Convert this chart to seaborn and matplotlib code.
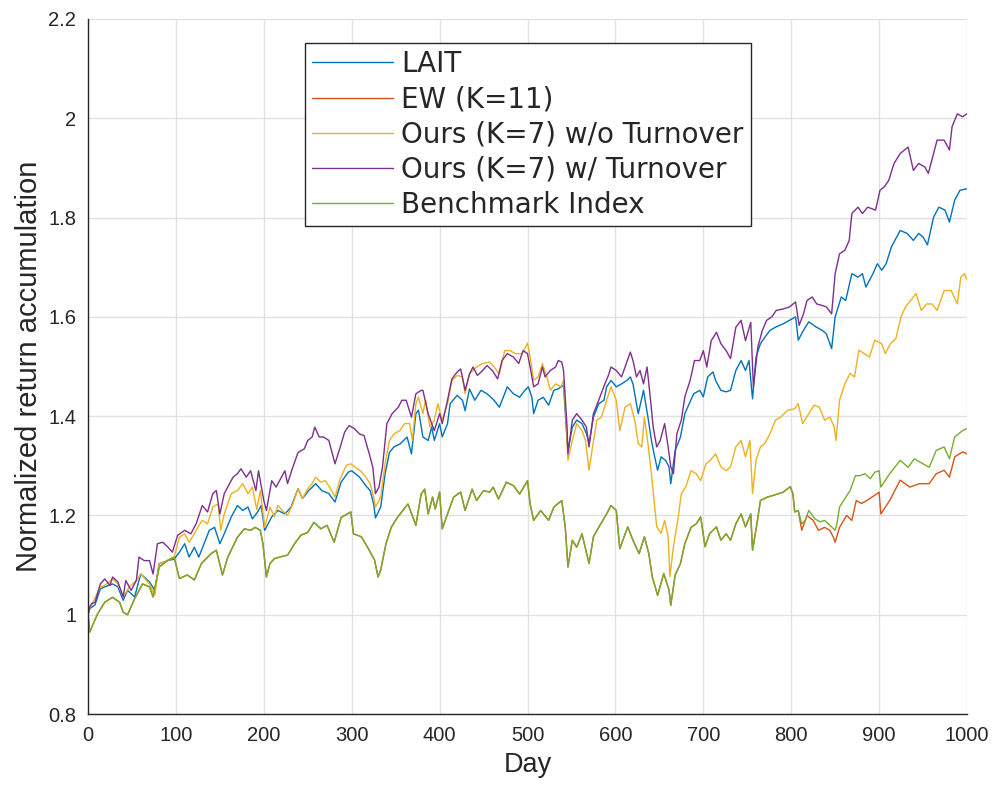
import matplotlib
matplotlib.use("Agg")
import matplotlib.pyplot as plt
import seaborn as sns
import pandas as pd

# ---------------- data ----------------
series_names = ["LAIT", "EW (K=11)", "Ours (K=7) w/o Turnover",
                "Ours (K=7) w/ Turnover", "Benchmark Index"]
series_colors = ["#0072BD", "#D95319", "#EDB120", "#7E2F8E", "#77AC30"]

x_ticks = [0, 100, 200, 300, 400, 500, 600, 700, 800, 900, 1000]
y_ticks = [0.8, 1.0, 1.2, 1.4, 1.6, 1.8, 2.0, 2.2]
y_tick_labels = ["0.8", "1", "1.2", "1.4", "1.6", "1.8", "2", "2.2"]

bench_days = [0, 2, 6, 11, 19, 28, 36, 40, 45, 53, 62, 70, 74, 81, 91, 98, 104, 113, 121, 129,
              140, 146, 153, 159, 170, 178, 185, 190, 196, 199, 203, 207, 212, 220, 227, 235, 242,
              250, 257, 265, 272, 280, 288, 299, 302, 311, 318, 326, 330, 333, 339, 345, 352, 364,
              373, 379, 383, 387, 392, 395, 400, 403, 409, 416, 424, 429, 437, 442, 450, 457, 461,
              467, 476, 484, 491, 500, 503, 507, 515, 524, 530, 539, 543, 546, 551, 556, 562, 570,
              575, 581, 590, 595, 601, 605, 614, 620, 627, 633, 638, 642, 648, 655, 661, 663, 668,
              674, 679, 686, 692, 697, 702, 707, 715, 720, 726, 731, 737, 743, 748, 754, 756, 761,
              765, 773, 779, 784, 791, 799, 802, 804, 808,
              812, 816, 820, 823, 827, 833, 838, 844, 850, 852, 855, 861, 867, 873, 878, 884, 890,
              895, 900, 902, 912, 924, 933, 940, 950, 957, 965, 974, 980, 986, 995, 1000]
bench_vals = [1.000, 0.965, 0.982, 1.002, 1.025, 1.035, 1.025, 1.005, 1.000, 1.032, 1.062, 1.056,
              1.036, 1.096, 1.110, 1.116, 1.073, 1.080, 1.070, 1.103, 1.123, 1.130, 1.080, 1.116,
              1.156, 1.173, 1.170, 1.176, 1.170, 1.143, 1.076, 1.103, 1.113, 1.117, 1.120, 1.143,
              1.160, 1.166, 1.186, 1.173, 1.180, 1.146, 1.196, 1.207, 1.163, 1.157, 1.136, 1.110,
              1.076, 1.090, 1.143, 1.176, 1.196, 1.223, 1.180, 1.243, 1.253, 1.203, 1.237, 1.213,
              1.247, 1.173, 1.203, 1.237, 1.247, 1.210, 1.253, 1.230, 1.250, 1.247, 1.257, 1.233,
              1.267, 1.260, 1.243, 1.270, 1.223, 1.190, 1.210, 1.190, 1.217, 1.230, 1.176, 1.096,
              1.150, 1.136, 1.163, 1.103, 1.157, 1.176, 1.203, 1.220, 1.210, 1.133, 1.177, 1.150,
              1.123, 1.157, 1.123, 1.076, 1.039, 1.083, 1.050, 1.019, 1.080, 1.103, 1.143, 1.176,
              1.183, 1.197, 1.137, 1.163, 1.177, 1.150, 1.163, 1.150, 1.183, 1.203, 1.177, 1.203,
              1.130, 1.183, 1.230, 1.237, 1.240, 1.243, 1.247, 1.258, 1.243, 1.207, 1.210,
              1.183, 1.190, 1.210, 1.203, 1.193, 1.187, 1.190, 1.180, 1.170, 1.183, 1.217, 1.234,
              1.250, 1.280, 1.280, 1.284, 1.274, 1.287, 1.290, 1.257, 1.284, 1.311, 1.297, 1.314,
              1.304, 1.297, 1.331, 1.338, 1.314, 1.358, 1.371, 1.375]

# EW (K=11) lies exactly under the benchmark until about day 808, then separates
ew_split = bench_days.index(808) + 1
ew_days = bench_days[:ew_split] + [812, 818, 825, 831, 838, 844, 848, 850, 855, 863, 869, 874,
                                   880, 886, 892, 897, 900, 902, 912, 924, 935, 946, 957, 965,
                                   974, 980, 986, 995, 1000]
ew_vals = bench_vals[:ew_split] + [1.170, 1.200, 1.190, 1.170, 1.176, 1.170, 1.156, 1.146, 1.176,
                                   1.200, 1.190, 1.230, 1.224, 1.230, 1.237, 1.243, 1.247, 1.203,
                                   1.230, 1.271, 1.257, 1.264, 1.264, 1.284, 1.291, 1.277, 1.318,
                                   1.328, 1.324]

lait_days = [0, 2, 8, 14, 19, 28, 34, 40, 45, 53, 60, 70, 76, 81, 91, 98, 104, 110, 115, 121, 126,
             132, 138, 144, 150, 155, 163, 170, 176, 182, 187, 193, 197, 201, 209, 216, 224, 231,
             239, 244, 251, 259, 266, 274, 281, 288, 296, 300, 309, 316, 321, 325, 327, 333, 338,
             343, 348, 355, 363, 368, 373, 376, 381, 387, 391, 394, 400, 403, 409, 412, 420, 426,
             429, 434, 440, 447, 454, 462, 468, 477, 484, 491, 497, 501, 505, 507, 512, 518, 524,
             530, 535, 541, 545, 546, 551, 556, 562, 567, 570, 575, 581, 587, 590, 595, 601, 607,
             613, 617, 620, 626, 632, 637, 641, 644, 648, 652, 657, 661, 663, 668, 674, 679, 684,
             689, 696, 700, 705, 711, 714, 720, 726, 731, 737, 743, 748, 752, 756, 760, 765, 770,
             776, 783, 791, 798, 805, 808, 814, 820, 828, 835, 840, 846, 850, 857, 862, 869, 876,
             881, 885, 893, 898, 903, 908, 914, 924, 932, 939, 945, 950, 955, 962, 968, 975, 980,
             986, 992, 1000]
lait_vals = [1.000, 1.012, 1.020, 1.052, 1.056, 1.062, 1.056, 1.029, 1.049, 1.036, 1.082, 1.066,
             1.049, 1.103, 1.109, 1.112, 1.126, 1.143, 1.116, 1.136, 1.116, 1.143, 1.170, 1.176,
             1.143, 1.163, 1.197, 1.220, 1.210, 1.217, 1.193, 1.207, 1.220, 1.170, 1.197, 1.210,
             1.203, 1.217, 1.254, 1.234, 1.250, 1.264, 1.250, 1.244, 1.227, 1.267, 1.287, 1.290,
             1.277, 1.260, 1.250, 1.223, 1.195, 1.217, 1.284, 1.327, 1.338, 1.344, 1.358, 1.324,
             1.405, 1.412, 1.358, 1.351, 1.378, 1.351, 1.385, 1.358, 1.385, 1.425, 1.442, 1.432,
             1.411, 1.455, 1.432, 1.452, 1.445, 1.432, 1.418, 1.459, 1.445, 1.438, 1.452, 1.459,
             1.438, 1.405, 1.432, 1.438, 1.422, 1.452, 1.455, 1.462, 1.351, 1.330, 1.378, 1.392,
             1.385, 1.365, 1.345, 1.398, 1.425, 1.432, 1.459, 1.472, 1.459, 1.465, 1.472, 1.479,
             1.465, 1.405, 1.452, 1.398, 1.351, 1.324, 1.291, 1.318, 1.311, 1.298, 1.264, 1.331,
             1.358, 1.405, 1.425, 1.445, 1.452, 1.439, 1.479, 1.489, 1.472, 1.452, 1.449, 1.452,
             1.492, 1.512, 1.492, 1.512, 1.435, 1.519, 1.546, 1.559, 1.573, 1.580, 1.586, 1.593,
             1.600, 1.553, 1.573, 1.590, 1.580, 1.573, 1.566, 1.536, 1.600, 1.640, 1.633, 1.687,
             1.680, 1.687, 1.660, 1.687, 1.707, 1.694, 1.707, 1.741, 1.774, 1.768, 1.754, 1.768,
             1.761, 1.745, 1.801, 1.821, 1.815, 1.791, 1.835, 1.855, 1.858]

wo_days = [0, 2, 14, 19, 28, 34, 40, 47, 55, 60, 70, 76, 81, 91, 98, 104, 110, 115, 121, 125, 130,
           136, 142, 148, 151, 155, 163, 170, 176, 182, 187, 192, 196, 201, 207, 212, 216, 221, 227,
           233, 239, 244, 250, 255, 259, 265, 270, 276, 281, 287, 294, 299, 304, 310, 316, 321, 325,
           327, 333, 338, 343, 348, 355, 360, 366, 369, 373, 376, 381, 384, 389, 394, 398, 403, 409,
           414, 420, 426, 429, 434, 442, 449, 457, 462, 468, 474, 480, 486, 494, 500, 503, 507, 512,
           517, 522, 526, 532, 538, 541, 544, 546, 551, 556, 562, 566, 570, 574, 579, 584, 590, 595,
           601, 605, 611, 617, 622, 626, 630, 633, 637, 641, 644, 647, 652, 656, 660, 662, 666, 671,
           675, 680, 686, 692, 697, 703, 708, 714, 720, 726, 731, 737, 743, 748, 753, 756, 760, 765,
           770, 776, 782, 788, 796, 804, 808, 813, 820, 826, 832, 838, 844, 849, 851, 855, 861, 867,
           872, 877, 883, 889, 895, 903, 907, 913, 919, 925, 930, 936, 942, 948, 954, 960, 966, 974,
           982, 989, 993, 997, 1000]
wo_vals = [1.000, 1.012, 1.056, 1.059, 1.072, 1.062, 1.036, 1.056, 1.069, 1.082, 1.062, 1.039,
           1.103, 1.109, 1.116, 1.156, 1.163, 1.146, 1.163, 1.176, 1.190, 1.183, 1.217, 1.223,
           1.170, 1.203, 1.244, 1.250, 1.264, 1.244, 1.257, 1.212, 1.250, 1.176, 1.217, 1.197,
           1.220, 1.210, 1.200, 1.223, 1.254, 1.234, 1.254, 1.264, 1.277, 1.267, 1.270, 1.254,
           1.237, 1.274, 1.301, 1.304, 1.297, 1.290, 1.277, 1.264, 1.237, 1.217, 1.237, 1.304,
           1.351, 1.364, 1.371, 1.385, 1.385, 1.351, 1.425, 1.438, 1.405, 1.432, 1.378, 1.392,
           1.425, 1.392, 1.425, 1.472, 1.482, 1.479, 1.445, 1.485, 1.499, 1.506, 1.509, 1.499,
           1.485, 1.532, 1.532, 1.526, 1.526, 1.547, 1.519, 1.472, 1.479, 1.506, 1.479, 1.452,
           1.465, 1.459, 1.472, 1.392, 1.311, 1.351, 1.385, 1.371, 1.351, 1.291, 1.338, 1.392,
           1.398, 1.432, 1.459, 1.432, 1.371, 1.418, 1.425, 1.392, 1.345, 1.338, 1.398, 1.345,
           1.284, 1.231, 1.177, 1.164, 1.190, 1.157, 1.077, 1.137, 1.190, 1.244, 1.257, 1.290,
           1.284, 1.270, 1.304, 1.311, 1.324, 1.298, 1.290, 1.298, 1.338, 1.351, 1.318, 1.351,
           1.244, 1.311, 1.338, 1.345, 1.365, 1.392, 1.398, 1.412, 1.415, 1.425, 1.385, 1.405,
           1.422, 1.418, 1.392, 1.398, 1.378, 1.351, 1.432, 1.465, 1.486, 1.479, 1.533, 1.526,
           1.519, 1.553, 1.546, 1.526, 1.546, 1.556, 1.600, 1.620, 1.633, 1.647, 1.613, 1.626,
           1.626, 1.613, 1.653, 1.653, 1.626, 1.680, 1.687, 1.674]

w_days = [0, 2, 4, 8, 14, 19, 25, 28, 34, 40, 43, 49, 55, 58, 64, 70, 74, 79, 85, 91, 96, 102, 110,
          117, 123, 130, 136, 142, 146, 150, 155, 165, 170, 174, 180, 185, 191, 194, 200, 203, 209,
          214, 220, 224, 227, 233, 239, 246, 250, 255, 258, 263, 268, 274, 277, 281, 287, 292, 297,
          303, 309, 314, 320, 324, 327, 331, 335, 340, 346, 353, 357, 362, 368, 373, 379, 381, 387,
          391, 394, 400, 403, 409, 414, 420, 424, 429, 434, 438, 443, 449, 454, 460, 466, 471, 477,
          484, 490, 495, 500, 503, 507, 512, 517, 520, 526, 532, 535, 539, 541, 545, 546, 551, 556,
          562, 567, 570, 575, 581, 588, 592, 595, 601, 607, 613, 617, 620, 624, 628, 632, 636, 640,
          643, 647, 651, 656, 660, 663, 666, 670, 675, 679, 685, 690, 696, 700, 704, 709, 715, 720,
          726, 731, 737, 743, 748, 754, 757, 762, 767, 772, 778, 783, 791, 798, 805, 809, 814, 818,
          824, 829, 835, 840, 846, 850, 855, 861, 866, 869, 876, 881, 887, 896, 901, 906, 911, 917,
          924, 933, 939, 945, 952, 956, 962, 966, 974, 980, 983, 989, 995, 1000]
w_vals = [1.000, 1.015, 1.022, 1.025, 1.062, 1.072, 1.059, 1.076, 1.066, 1.036, 1.069, 1.049,
          1.069, 1.116, 1.109, 1.109, 1.082, 1.143, 1.146, 1.136, 1.126, 1.160, 1.170, 1.163,
          1.183, 1.220, 1.207, 1.244, 1.250, 1.203, 1.244, 1.277, 1.284, 1.294, 1.277, 1.290,
          1.250, 1.290, 1.230, 1.210, 1.270, 1.257, 1.277, 1.290, 1.264, 1.297, 1.327, 1.334,
          1.351, 1.358, 1.378, 1.358, 1.358, 1.351, 1.331, 1.304, 1.338, 1.368, 1.381, 1.375,
          1.364, 1.361, 1.324, 1.297, 1.244, 1.257, 1.297, 1.385, 1.405, 1.418, 1.432, 1.432,
          1.398, 1.445, 1.452, 1.452, 1.405, 1.385, 1.371, 1.405, 1.385, 1.432, 1.475, 1.489,
          1.495, 1.452, 1.485, 1.499, 1.482, 1.492, 1.502, 1.492, 1.475, 1.512, 1.526, 1.519,
          1.506, 1.532, 1.526, 1.499, 1.459, 1.465, 1.499, 1.479, 1.492, 1.499, 1.512, 1.509,
          1.492, 1.378, 1.324, 1.392, 1.405, 1.392, 1.378, 1.338, 1.405, 1.432, 1.465, 1.482,
          1.499, 1.492, 1.479, 1.509, 1.529, 1.512, 1.479, 1.492, 1.465, 1.499, 1.432, 1.378,
          1.338, 1.351, 1.385, 1.338, 1.298, 1.284, 1.365, 1.392, 1.439, 1.472, 1.512, 1.512,
          1.532, 1.499, 1.552, 1.569, 1.546, 1.532, 1.516, 1.579, 1.593, 1.552, 1.589, 1.459,
          1.539, 1.572, 1.593, 1.600, 1.613, 1.616, 1.620, 1.630, 1.583, 1.606, 1.633, 1.640,
          1.626, 1.623, 1.620, 1.606, 1.687, 1.727, 1.734, 1.754, 1.808, 1.821, 1.808, 1.821,
          1.815, 1.855, 1.862, 1.875, 1.909, 1.929, 1.942, 1.895, 1.909, 1.902, 1.889, 1.929,
          1.956, 1.956, 1.936, 1.983, 2.009, 2.003, 2.009]

series_days = [lait_days, ew_days, wo_days, w_days, bench_days]
series_vals = [lait_vals, ew_vals, wo_vals, w_vals, bench_vals]

# ---------------- build long-form table ----------------
frames = []
for name, d, v in zip(series_names, series_days, series_vals):
    frames.append(pd.DataFrame({"Day": d, "Value": v, "Method": name}))
df = pd.concat(frames, ignore_index=True)

# ---------------- style ----------------
sns.set_theme(style="white")
plt.rcParams["font.family"] = ["Liberation Sans", "DejaVu Sans"]

fig = plt.figure(figsize=(9.97, 7.87), dpi=100)
ax = fig.add_axes([88 / 997, 1 - 714 / 787, (967 - 88) / 997, (714 - 19) / 787])

sns.lineplot(data=df, x="Day", y="Value", hue="Method", hue_order=series_names,
             palette=dict(zip(series_names, series_colors)), estimator=None, sort=False,
             linewidth=1.0, ax=ax, legend=False)

ax.set_xlim(0, 1000)
ax.set_ylim(0.8, 2.2)
ax.set_xticks(x_ticks)
ax.set_xticklabels([str(t) for t in x_ticks])
ax.set_yticks(y_ticks)
ax.set_yticklabels(y_tick_labels)
ax.grid(True, color="#e1e1e1", linewidth=1.0)
ax.set_axisbelow(True)
for side in ["top", "right"]:
    ax.spines[side].set_visible(False)
for side in ["left", "bottom"]:
    ax.spines[side].set_visible(True)
    ax.spines[side].set_color("#262626")
    ax.spines[side].set_linewidth(1.0)
ax.tick_params(axis="both", direction="in", length=6.5, width=1.0, color="#262626",
               labelsize=14.5, labelcolor="#262626", pad=8.5)

ax.set_xlabel("Day", fontsize=19.5, color="#262626", labelpad=5)
ax.set_ylabel("Normalized return accumulation", fontsize=21, color="#262626", labelpad=4)

handles = ax.get_lines()[:len(series_names)]
leg = ax.legend(handles, series_names, loc="upper left", bbox_to_anchor=(0.247, 0.9655),
                frameon=True, fancybox=False, edgecolor="#262626", framealpha=1,
                prop={"family": ["DejaVu Sans"], "size": 20},
                handlelength=2.9, handletextpad=0.3, labelspacing=0.26,
                borderpad=0.26, borderaxespad=0)
leg.get_frame().set_linewidth(1.0)

fig.savefig("out.png", dpi=100, facecolor="white")
